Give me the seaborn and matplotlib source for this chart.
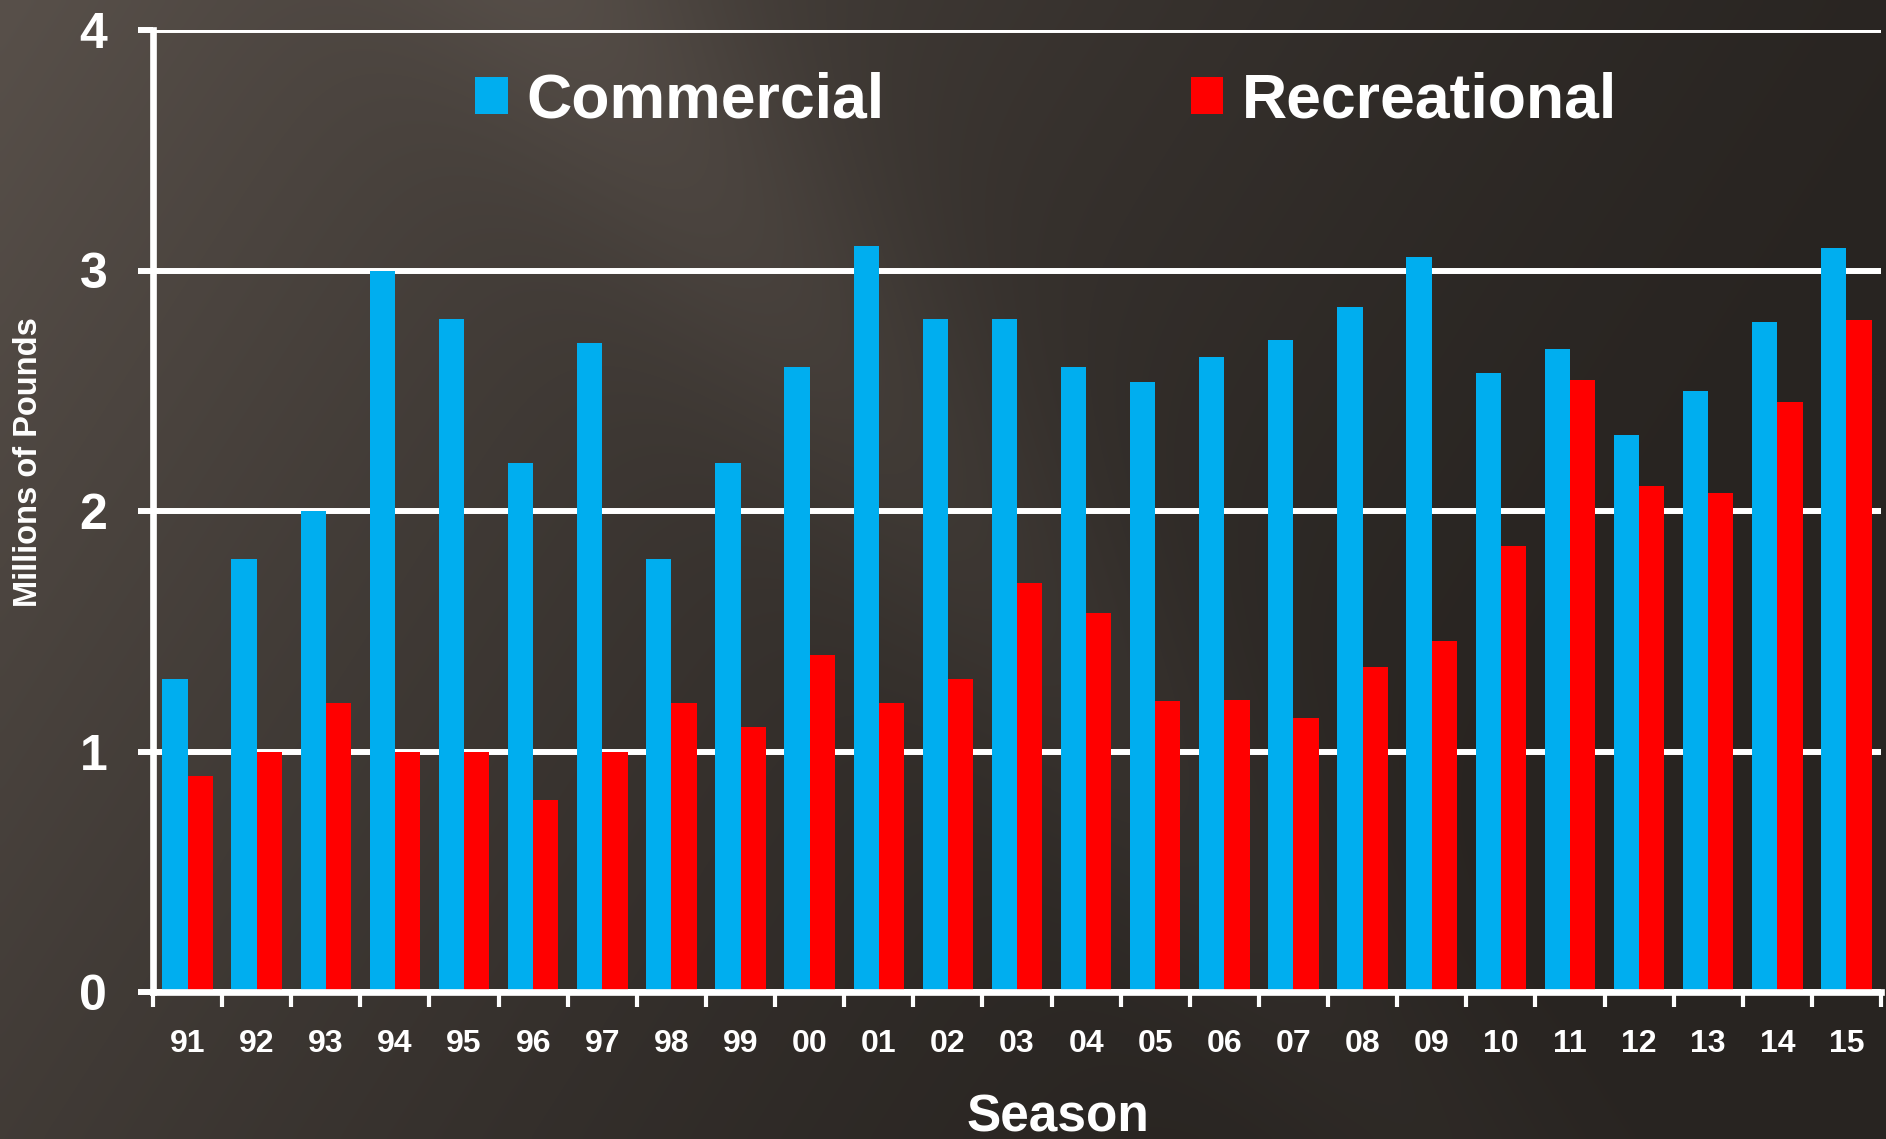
import numpy as np
import pandas as pd
import matplotlib
matplotlib.use("Agg")
import matplotlib.pyplot as plt
import seaborn as sns

seasons = ["91", "92", "93", "94", "95", "96", "97", "98", "99", "00", "01", "02", "03",
           "04", "05", "06", "07", "08", "09", "10", "11", "12", "13", "14", "15"]
commercial = [1.30, 1.80, 2.00, 3.00, 2.80, 2.20, 2.70, 1.80, 2.20, 2.60, 3.10, 2.80, 2.80,
              2.60, 2.535, 2.64, 2.71, 2.85, 3.055, 2.575, 2.675, 2.315, 2.50, 2.785, 3.095]
recreational = [0.90, 1.00, 1.20, 1.00, 1.00, 0.80, 1.00, 1.20, 1.10, 1.40, 1.20, 1.30, 1.70,
                1.575, 1.21, 1.215, 1.14, 1.35, 1.46, 1.855, 2.545, 2.105, 2.075, 2.455, 2.795]
series_names = ["Commercial", "Recreational"]
colors = {"Commercial": "#00AEEF", "Recreational": "#FF0000"}

df = pd.DataFrame({"Season": seasons, "Commercial": commercial, "Recreational": recreational})
long_df = df.melt(id_vars="Season", var_name="Sector", value_name="Pounds")

sns.set_theme(style="white")
plt.rcParams["font.family"] = ["Liberation Sans", "DejaVu Sans"]

W, H = 1886, 1139
fig = plt.figure(figsize=(W / 100, H / 100), dpi=100)

# dark textured backdrop with a lighter diagonal streak
bg_ax = fig.add_axes([0, 0, 1, 1], zorder=-10)
yy, xx = np.mgrid[0:1:240j, 0:1:400j]
dark = np.array([40, 36, 33]) / 255
light = np.array([88, 80, 74]) / 255
base = np.clip(1.0 - 0.9 * xx - 0.35 * yy, 0, 1) ** 1.5
streak = np.exp(-((xx * 1.0 - yy * 0.45 - 0.30) ** 2) / 0.008) * 0.3 * (1 - yy * 0.6)
t = np.clip(base + streak, 0, 1)[..., None]
bg = dark + (light - dark) * t
bg_ax.imshow(bg, aspect="auto", extent=[0, 1, 0, 1], interpolation="bicubic")
bg_ax.axis("off")

ax = fig.add_axes([153 / W, 1 - 992 / H, (1881 - 153) / W, (992 - 30) / H])
ax.patch.set_alpha(0)

sns.barplot(data=long_df, x="Season", y="Pounds", hue="Sector", order=seasons,
            hue_order=series_names, palette=colors, width=0.73, saturation=1,
            linewidth=0, ax=ax, zorder=3)

ax.set_xlim(-0.5, len(seasons) - 0.5)
ax.set_ylim(0, 4)
ax.set_yticks([0, 1, 2, 3, 4])
ax.set_yticklabels(["0", "1", "2", "3", "4"])
ax.yaxis.grid(True, color="white", linewidth=4.3, zorder=1)
ax.set_axisbelow(True)

for side in ["top", "right"]:
    ax.spines[side].set_visible(False)
for side in ["left", "bottom"]:
    ax.spines[side].set_color("white")
    ax.spines[side].set_linewidth(4.8)
    ax.spines[side].set_zorder(4)

ax.tick_params(axis="y", which="major", left=True, length=11, width=4.3, color="white",
               pad=22, labelsize=36, labelcolor="white")
for lab in ax.get_yticklabels():
    lab.set_fontweight("bold")

# labels at group centres, tick marks at group boundaries
ax.set_xticks(range(len(seasons)))
ax.set_xticklabels(seasons)
ax.set_xticks(np.arange(-0.5, len(seasons), 1.0), minor=True)
ax.tick_params(axis="x", which="major", length=0, pad=27, labelsize=23, labelcolor="white")
ax.tick_params(axis="x", which="minor", bottom=True, length=11, width=3, color="white")
for lab in ax.get_xticklabels():
    lab.set_fontweight("bold")

ax.set_xlabel("")
ax.set_ylabel("")
fig.text(880 * 1.2028 / W, 1 - 1118 / H, "Season", ha="center", va="center",
         fontsize=37, fontweight="bold", color="white")
fig.text(29 / W, 1 - 462 / H, "Millions of Pounds", ha="center", va="center",
         rotation=90, fontsize=23.5, fontweight="bold", color="white")

handles, labels = ax.get_legend_handles_labels()
leg = ax.legend(handles, labels, ncol=2, frameon=False, loc="center left",
                bbox_to_anchor=((475 - 153) / (1881 - 153), (992 - 101) / (992 - 30)),
                fontsize=45, handlelength=0.52, handleheight=0.52, handletextpad=0.3,
                columnspacing=4.9, borderpad=0, borderaxespad=0)
for txt in leg.get_texts():
    txt.set_color("white")
    txt.set_fontweight("bold")

fig.savefig("out.png", dpi=100)
